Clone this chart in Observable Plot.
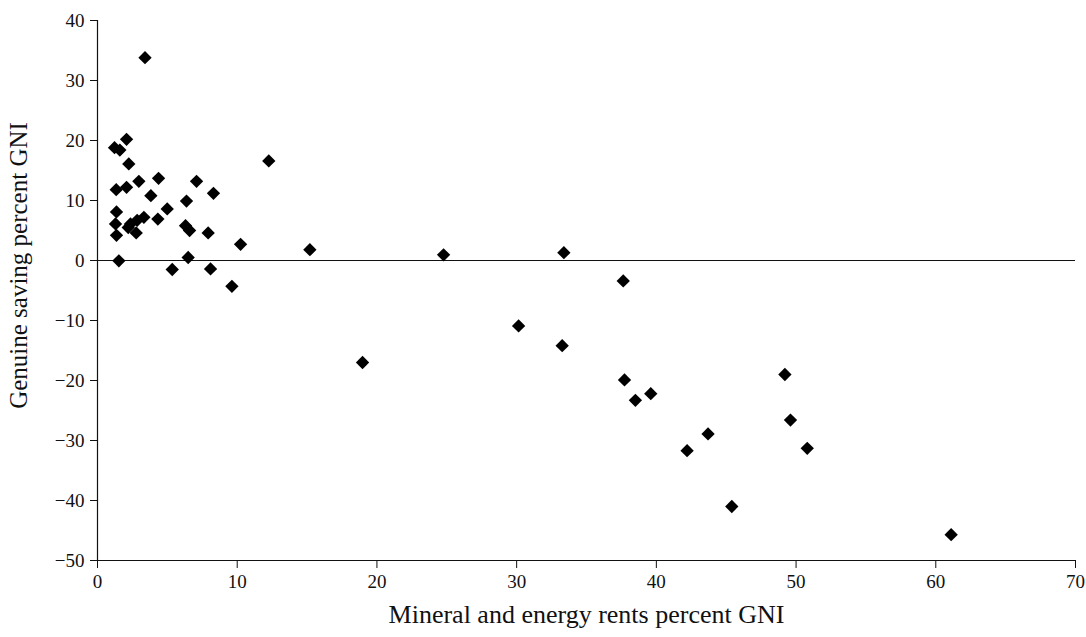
<!DOCTYPE html>
<html>
<head>
<meta charset="utf-8">
<script src="https://cdn.jsdelivr.net/npm/d3@7"></script>
<script src="https://cdn.jsdelivr.net/npm/@observablehq/plot@0.6"></script>
<style>
  html, body { margin: 0; padding: 0; background: #fff; }
  #chart svg { display: block; }
</style>
</head>
<body>
<div id="chart"></div>
<script>
// Mineral and energy rents (% GNI)
const rents = [
  3.4, 2.08, 1.22, 1.6, 2.24, 12.26,
  1.34, 2.08, 2.96, 4.37, 7.09, 8.30, 3.82, 6.37, 4.99,
  1.36, 4.32, 3.32, 1.29, 2.36, 2.84, 2.77, 2.2,
  6.3, 6.59, 7.92, 1.36, 10.24, 1.53, 6.49, 5.35, 8.09, 9.62,
  15.2, 24.77, 33.38, 37.63, 30.14, 33.26, 18.97,
  37.72, 49.2, 39.6, 38.5, 49.6, 43.7, 42.2, 50.8, 45.4, 61.1
];
// Genuine saving (% GNI)
const saving = [
  33.8, 20.2, 18.8, 18.4, 16.1, 16.6,
  11.8, 12.2, 13.2, 13.7, 13.2, 11.2, 10.8, 9.9, 8.6,
  8.1, 6.9, 7.2, 6.1, 6.1, 6.7, 4.6, 5.5,
  5.8, 5.0, 4.6, 4.2, 2.7, -0.05, 0.5, -1.5, -1.4, -4.3,
  1.8, 0.95, 1.3, -3.4, -10.9, -14.2, -17.0,
  -19.9, -19.0, -22.2, -23.3, -26.6, -28.9, -31.7, -31.3, -41.0, -45.7
];
const xTicks = [0, 10, 20, 30, 40, 50, 60, 70];
const yTicks = [40, 30, 20, 10, 0, -10, -20, -30, -40, -50];
const xLabel = "Mineral and energy rents percent GNI";
const yLabel = "Genuine saving percent GNI";

const data = rents.map((r, i) => ({r, s: saving[i]}));
const font = "'Liberation Serif', 'DejaVu Serif', serif";
const ink = "#111";

const chart = Plot.plot({
  width: 1086,
  height: 637,
  marginLeft: 97,
  marginRight: 11,
  marginTop: 20,
  marginBottom: 77,
  style: {fontFamily: font, background: "#fff", color: ink},
  x: {domain: [0, 70]},
  y: {domain: [-50, 40]},
  marks: [
    Plot.axisX({ticks: xTicks, tickSize: 8, tickPadding: 6, fontSize: 19, label: null, fontFamily: font}),
    Plot.axisY({ticks: yTicks, tickSize: 7, tickPadding: 6, fontSize: 19, label: null, fontFamily: font}),
    Plot.ruleX([0], {stroke: ink, strokeWidth: 1.2}),
    Plot.ruleY([-50], {stroke: ink, strokeWidth: 1.2}),
    Plot.ruleY([0], {stroke: ink, strokeWidth: 1.2}),
    Plot.dot(data, {x: "r", y: "s", symbol: "diamond2", r: 6, fill: "#000", stroke: null}),
    Plot.text([xLabel], {frameAnchor: "bottom", dy: 62, fontSize: 26, fill: ink, fontFamily: font, textAnchor: "middle"}),
    Plot.text([yLabel], {frameAnchor: "left", dx: -79, dy: -25, rotate: -90, fontSize: 25, fill: ink, fontFamily: font, textAnchor: "middle"})
  ]
});
document.getElementById("chart").appendChild(chart);
</script>
</body>
</html>
